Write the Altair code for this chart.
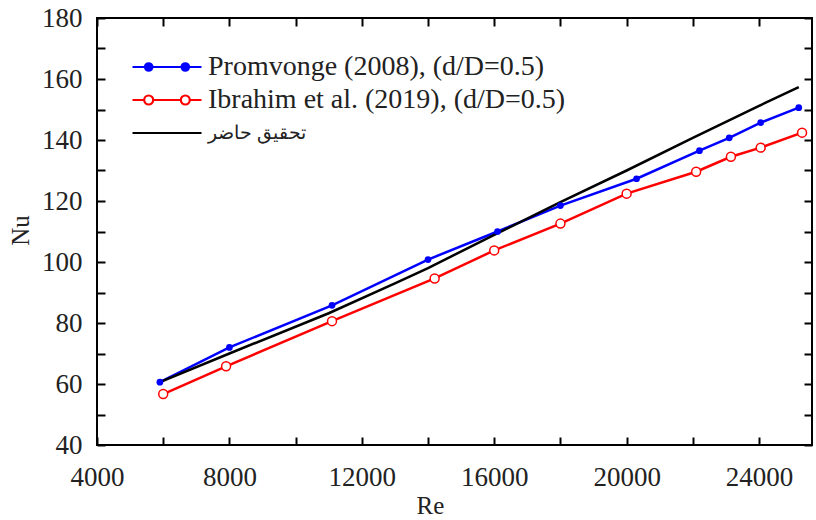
import altair as alt
import pandas as pd

# Nusselt number vs Reynolds number for three data sets
re_promvonge = [5900, 8000, 11100, 14000, 16100, 18000, 20300, 22200, 23100, 24050, 25200]
nu_promvonge = [60.6, 72.0, 85.8, 100.8, 110.0, 118.5, 127.3, 136.5, 140.7, 145.7, 150.6]

re_ibrahim = [6000, 7900, 11100, 14200, 16000, 18000, 20000, 22100, 23150, 24050, 25300]
nu_ibrahim = [56.7, 65.8, 80.6, 94.6, 103.8, 112.6, 122.4, 129.6, 134.5, 137.5, 142.4]

re_present = [5900, 8000, 11000, 13000, 14000, 16000, 18000, 20000, 22000, 24000, 25200]
nu_present = [60.6, 70.0, 83.2, 93.0, 98.0, 108.9, 119.6, 130.0, 140.7, 151.2, 157.3]

series_names = [
    "Promvonge (2008), (d/D=0.5)",
    "Ibrahim et al. (2019), (d/D=0.5)",
    "تحقيق حاضر",
]
series_colors = ["#0000ff", "#ff0000", "#000000"]
marker_fills = ["#0000ff", "#ffffff", "transparent"]

x_ticks_major = [4000, 8000, 12000, 16000, 20000, 24000]
x_ticks_minor = list(range(4000, 25001, 2000))
y_ticks_major = list(range(40, 181, 20))
y_ticks_minor = list(range(40, 181, 10))

rows = []
for name, res, nus in zip(series_names,
                          [re_promvonge, re_ibrahim, re_present],
                          [nu_promvonge, nu_ibrahim, nu_present]):
    for i, (r, n) in enumerate(zip(res, nus)):
        rows.append({"series": name, "Re": r, "Nu": n, "order": i})
df = pd.DataFrame(rows)

W, H = 715, 427
SERIF = "Liberation Serif"
x_scale = alt.Scale(domain=[4000, 25600], nice=False, zero=False)
y_scale = alt.Scale(domain=[40, 180], nice=False, zero=False)


# legend glyphs: a line with two markers (unit = sqrt(size)/2 px)
def circle(cx, rad):
    return (f"M{cx - rad},0A{rad},{rad} 0 1,0 {cx + rad},0"
            f"A{rad},{rad} 0 1,0 {cx - rad},0Z")


L, C = 6.9, 3.66
glyph_blue = f"M{-L},0H{L}" + circle(-C, 0.75) + circle(C, 0.75)
glyph_red = (f"M{-L},0H{-C - 0.9}M{-C + 0.9},0H{C - 0.9}M{C + 0.9},0H{L}"
             + circle(-C, 0.9) + circle(C, 0.9))
glyph_black = f"M{-L},0H{L}"

tick_axis = dict(labels=False, domain=False, grid=False, tickSize=8,
                 tickWidth=2, tickColor="black", title=None)


def x_enc(axis):
    return alt.X("Re:Q", scale=x_scale, axis=axis)


def y_enc(axis):
    return alt.Y("Nu:Q", scale=y_scale, axis=axis)


base = alt.Chart(df)


def only(name):
    return base.transform_filter(alt.datum.series == name)


x_label_axis = alt.Axis(orient="bottom", values=x_ticks_major, format="d",
                        ticks=False, domain=False, grid=False, labelFlush=False,
                        labelFont=SERIF, labelFontSize=27, labelColor="#222",
                        labelPadding=19, title="Re", titleFont=SERIF,
                        titleFontSize=25, titleFontWeight="normal",
                        titleColor="#222", titleX=333, titleY=48)
y_label_axis = alt.Axis(orient="left", values=y_ticks_major, format="d",
                        ticks=False, domain=False, grid=False, labelFlush=False,
                        labelFont=SERIF, labelFontSize=27, labelColor="#222",
                        labelPadding=15, title="Nu", titleFont=SERIF,
                        titleFontSize=25, titleFontWeight="normal",
                        titleColor="#222", titleX=-64, titleY=212)

line_blue = only(series_names[0]).mark_line(strokeWidth=2.5, color=series_colors[0]).encode(
    x=x_enc(x_label_axis), y=y_enc(y_label_axis), order="order:Q")
line_red = only(series_names[1]).mark_line(strokeWidth=2.5, color=series_colors[1]).encode(
    x=x_enc(None), y=y_enc(None), order="order:Q")
line_black = only(series_names[2]).mark_line(strokeWidth=2.5, color=series_colors[2]).encode(
    x=x_enc(None), y=y_enc(None), order="order:Q")

blue_pts = only(series_names[0]).mark_point(
    filled=True, color=series_colors[0], size=45, opacity=1
).encode(
    x=x_enc(alt.Axis(orient="top", offset=-H, values=x_ticks_minor, **tick_axis)),
    y=y_enc(alt.Axis(orient="right", offset=-W, values=y_ticks_minor, **tick_axis)),
)

red_pts = only(series_names[1]).mark_point(
    filled=False, color=series_colors[1], fill="white", size=80,
    strokeWidth=1.5, opacity=1
).encode(x=x_enc(None), y=y_enc(None))

legend = alt.Legend(orient="none", legendX=56, legendY=35, title=None,
                    labelFont=SERIF,
                    labelFontSize=alt.ExprRef("datum.index === 2 ? 19 : 28"),
                    labelColor="#222",
                    labelLimit=600, symbolSize=100, symbolStrokeWidth=2.2,
                    symbolOffset=0, labelOffset=27, rowPadding=5, padding=0)

# legend-only layer: no rows survive the filter, the scales carry the entries
legend_layer = base.transform_filter("datum.Nu < 0").mark_point(
    size=100, opacity=1, strokeWidth=2.2
).encode(
    x=x_enc(alt.Axis(orient="bottom", offset=-H, values=x_ticks_minor, **tick_axis)),
    y=y_enc(alt.Axis(orient="left", offset=-W, values=y_ticks_minor, **tick_axis)),
    color=alt.Color("series:N", scale=alt.Scale(domain=series_names, range=series_colors),
                    legend=legend),
    fill=alt.Fill("series:N", scale=alt.Scale(domain=series_names, range=marker_fills),
                  legend=legend),
    shape=alt.Shape("series:N",
                    scale=alt.Scale(domain=series_names,
                                    range=[glyph_blue, glyph_red, glyph_black]),
                    legend=legend),
)

chart = alt.layer(line_blue, line_red, line_black, blue_pts, red_pts,
                  legend_layer).resolve_axis(
    x="independent", y="independent"
).properties(
    width=W, height=H,
    autosize=alt.AutoSizeParams(type="none"),
    padding={"left": 97, "top": 18, "right": 4, "bottom": 75},
).configure_view(stroke="black", strokeWidth=2)

chart.save("out.html", embed_options={"renderer": "svg", "actions": False})
